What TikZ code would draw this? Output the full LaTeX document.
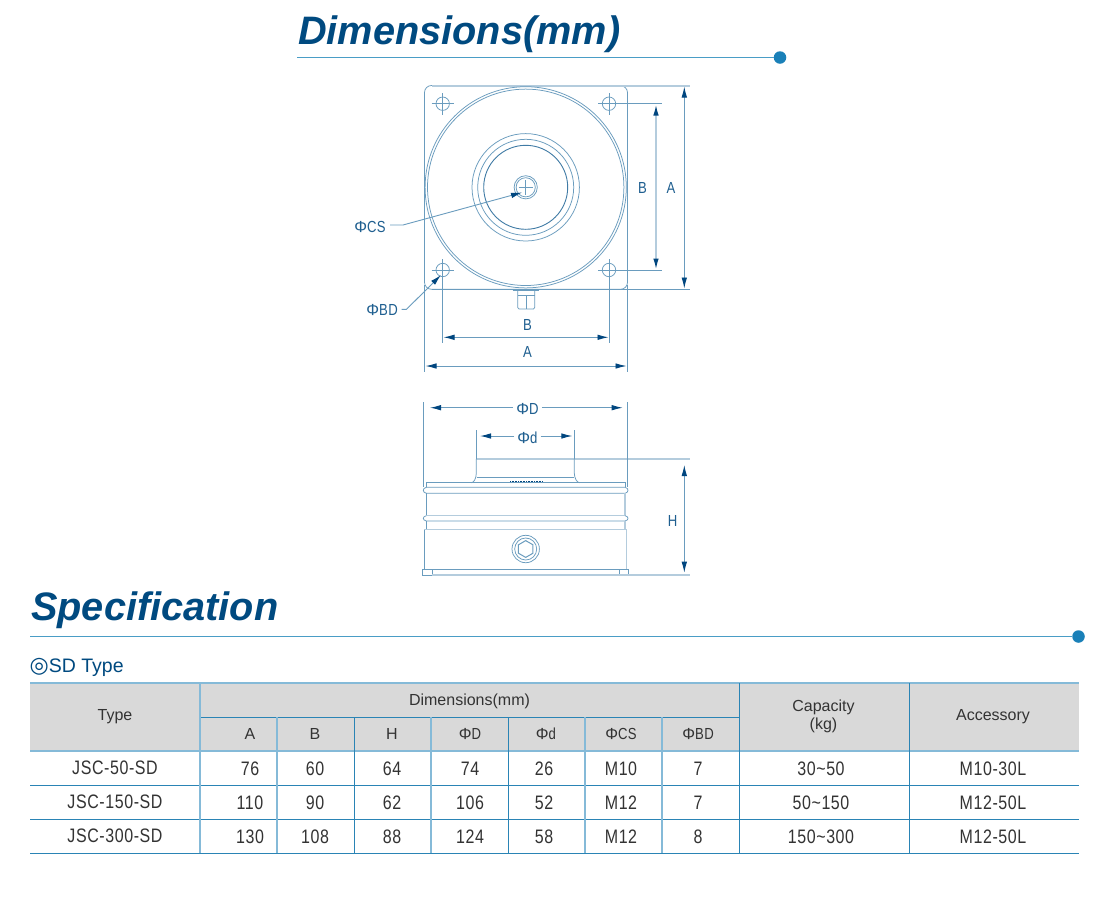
\documentclass[tikz,border=0pt]{standalone}
\usepackage{fontspec}
\setmainfont{Liberation Sans}
\newfontfamily\narrowf[FakeStretch=0.82,LetterSpace=3]{Liberation Sans}
\newfontfamily\symf{DejaVu Sans}
\newcommand{\phig}{{\rmfamily Φ}}
\usetikzlibrary{arrows.meta}
\definecolor{navy}{HTML}{004A80}
\definecolor{rule}{HTML}{4A9DC6}
\definecolor{dotc}{HTML}{1A80B8}
\definecolor{dline}{HTML}{6A9CBE}
\definecolor{dlight}{HTML}{B4CCDD}
\definecolor{dtext}{HTML}{1F5F90}
\definecolor{arrowc}{HTML}{00467F}
\definecolor{hgray}{HTML}{D9D9D9}
\definecolor{tline}{HTML}{2A84B5}
\definecolor{tlight}{HTML}{85BAD8}
\definecolor{ttext}{HTML}{333333}
\tikzset{
  x=1pt,y=-1pt,
  title/.style={anchor=base west,inner sep=0,text=navy,font=\fontsize{39.7}{44}\selectfont\bfseries\itshape},
  part/.style={draw=dline,line width=0.75pt},
  partlight/.style={draw=dlight,line width=1.8pt},
  extline/.style={draw=dline,line width=0.75pt},
  dimline/.style={draw=dline,line width=0.9pt},
  dimarrow/.style={dimline,{Latex[length=11pt,width=5.5pt,color=arrowc]}-{Latex[length=11pt,width=5.5pt,color=arrowc]}},
  tiparrow/.style={dimline,-{Latex[length=11pt,width=5.5pt,color=arrowc]}},
  dimtext/.style={inner sep=0,anchor=base,text=dtext,font=\fontsize{16}{18}\selectfont\narrowf},
  hdr/.style={inner sep=0,anchor=base,text=ttext,font=\fontsize{16}{18}\selectfont},
  hdrn/.style={inner sep=0,anchor=base,text=ttext,font=\fontsize{16}{18}\selectfont\narrowf},
  cell/.style={inner sep=0,anchor=base,text=ttext,font=\fontsize{19.5}{22}\selectfont\narrowf},
  tl/.style={draw=tline,line width=0.9pt},
  tll/.style={draw=tlight,line width=1.6pt},
}
\begin{document}
\begin{tikzpicture}
\useasboundingbox[fill=white] (0,0) rectangle (1107,914);

% headings
\node[title] (t1) at (298,44) {Dimensions(mm)};
\coordinate (t1a) at (297,57.5);
\node[circle,fill=dotc,minimum size=12.5pt,inner sep=0] (t1dot) at (780,57.5) {};
\draw[rule,line width=1.5pt] (t1a) -- (t1dot);
\node[title] (t2) at (31,620) {Specification};
\coordinate (t2a) at (30,636.5);
\node[circle,fill=dotc,minimum size=12.5pt,inner sep=0] (t2dot) at (1078.5,636.5) {};
\draw[rule,line width=1.5pt] (t2a) -- (t2dot);

% plan view
\draw[part] (424.5,92.5) arc[start angle=180,end angle=270,radius=7] -- (620.5,85.7) arc[start angle=-90,end angle=0,radius=7] -- (627.5,282.3) arc[start angle=0,end angle=90,radius=7] -- (431.5,289.3) arc[start angle=90,end angle=180,radius=7] -- cycle;
\draw[partlight] (431.5,85.7) -- (690,85.7);
\coordinate (pc) at (525.7,187.3);
\foreach \r in {100.6,98.2,53.7,48}{\draw[part] (pc) circle[radius=\r];}
\draw[draw=dline!60!navy,line width=0.9pt] (pc) circle[radius=42];
\draw[part] (pc) circle[radius=11.6];
\draw[part] (pc) circle[radius=9.6];
\draw[part,line width=0.5pt] (518.5,187.3) -- (533,187.3) (525.7,180) -- (525.7,194.5);
\foreach \n/\hx/\hy in {h1/442.7/103.7,h2/609/103.7,h3/442.7/270,h4/609/270}{
  \coordinate (\n) at (\hx,\hy);
  \draw[part] (\n) circle[radius=6.7];
  \draw[part,line width=0.55pt] ([xshift=-11pt]\n) -- ([xshift=11pt]\n) ([yshift=-11pt]\n) -- ([yshift=11pt]\n);
}
% lug
\draw[part] (512.7,290) -- (539,290);
\draw[part] (517.7,290) -- (517.7,307.5) -- (519,309) -- (533.5,309) -- (534.7,307.5) -- (534.7,290);
\draw[part] (526,295) -- (526,309) (517.7,295) -- (534.7,295);

% plan view dimensions
\coordinate (ra) at (690,289.3);
\coordinate (rb1) at (661.7,103.7);
\coordinate (rb2) at (661.7,270);
\draw[extline] (431.5,289.3) -- (ra);
\draw[extline] (h2) -- (rb1);
\draw[extline] (h4) -- (rb2);
\coordinate (va1) at (684.3,86.5);
\coordinate (va2) at (684.3,288.5);
\coordinate (vb1) at (656,104.5);
\coordinate (vb2) at (656,269.5);
\draw[dimarrow] (va1) -- (va2);
\draw[dimarrow,dlight,line width=1.5pt] (vb1) -- (vb2);
\node[dimtext] (lvb) at (642.5,193.5) {B};
\node[dimtext] (lva) at (671,193.5) {A};
\coordinate (ba) at (442.7,343);
\coordinate (bb) at (609,343);
\coordinate (aa) at (424.5,371.7);
\coordinate (ab) at (627.5,371.7);
\draw[extline] (h3) -- (ba);
\draw[extline] (h4) -- (bb);
\draw[extline] (424.5,285) -- (aa);
\draw[extline] (627.5,285) -- (ab);
\coordinate (hb1) at (443.5,337.3);
\coordinate (hb2) at (608.5,337.3);
\coordinate (ha1) at (425.5,366);
\coordinate (ha2) at (626.5,366);
\draw[dimarrow] (hb1) -- (hb2);
\draw[dimarrow] (ha1) -- (ha2);
\node[dimtext] (lhb) at (527.5,330) {B};
\node[dimtext] (lha) at (527.5,357) {A};

% leaders
\node[dimtext] (lcs) at (370,232) {\phig CS};
\coordinate (lcs1) at (390,225);
\coordinate (lcs2) at (403,225);
\coordinate (lcs3) at (522,192.5);
\draw[tiparrow] (lcs1) -- (lcs2) -- (lcs3);
\node[dimtext] (lbd) at (382,315) {\phig BD};
\coordinate (lbd1) at (401.5,309.3);
\coordinate (lbd2) at (406.5,309.3);
\coordinate (lbd3) at (441,275);
\draw[tiparrow] (lbd1) -- (lbd2) -- (lbd3);

% side view
\draw[partlight,line width=1.5pt] (476.3,459) -- (690,459);
\coordinate (d1) at (423.7,402);
\coordinate (d2) at (627,402);
\coordinate (e1) at (476.3,430);
\coordinate (e2) at (574.3,430);
\draw[extline] (d1) -- (423.7,487.3);
\draw[extline] (d2) -- (627,487.3);
\draw[extline] (e1) -- (476.3,459);
\draw[extline] (e2) -- (574.3,459);
% boss
\draw[part] (476.3,459) -- (476.3,473) .. controls (476.3,478) and (474,482.7) .. (471.5,482.7);
\draw[part] (574.3,459) -- (574.3,473) .. controls (574.3,478) and (577,482.7) .. (579.5,482.7);
\draw[part] (476.6,477.3) -- (574,477.3);
% body
\draw[part] (426.3,487.3) -- (426.3,482.7) -- (625,482.7) -- (625,487.3);
\draw[part] (426.3,487.3) -- (625,487.3) .. controls (629,488) and (629,492.5) .. (625,493.3) -- (426.3,493.3) .. controls (422.3,492.5) and (422.3,488) .. (426.3,487.3);
\draw[part] (426.3,493.3) -- (426.3,515.7);
\draw[partlight,line width=1.5pt] (625,493.3) -- (625,515.7);
\draw[partlight,line width=1.5pt] (426.3,515.7) -- (625,515.7);
\draw[part] (426.3,515.7) .. controls (422.3,516.5) and (422.3,520.2) .. (426.3,521) -- (625,521) .. controls (629,520.2) and (629,516.5) .. (625,515.7);
\draw[part] (426.3,521) -- (426.3,529.7);
\draw[partlight,line width=1.5pt] (625,521) -- (625,529.7);
\draw[partlight,line width=1.5pt] (424.3,529.7) -- (626.7,529.7);
\draw[part] (424.3,569.3) -- (424.3,529.7);
\draw[partlight,line width=1.5pt] (626.7,569.3) -- (626.7,529.7);
\draw[part] (422.3,569.3) rectangle (628.7,575);
\draw[part] (432,569.3) -- (432,575) (619.3,569.3) -- (619.3,575);
\draw[partlight,line width=1.5pt] (432,575) -- (690,575);
\draw[draw=arrowc,line width=1.2pt,dash pattern=on 1pt off 0.6pt] (510,481.5) -- (543,481.5);
% bolt
\coordinate (bc) at (525.7,549);
\draw[part] (bc) circle[radius=13.7];
\draw[part] (bc) circle[radius=11];
\draw[part,line width=1pt] (bc) ++(30:8.4) -- ++(150:8.4) -- ++(210:8.4) -- ++(270:8.4) -- ++(330:8.4) -- ++(30:8.4) -- cycle;

% side dimensions
\node[dimtext] (ld) at (527.5,414) {\phig D};
\node[dimtext] (le) at (527.5,443) {\phig d};
\coordinate (da) at (430,407.7);
\coordinate (db) at (622.7,407.7);
\coordinate (ea) at (480,436);
\coordinate (eb) at (572.3,436);
\draw[tiparrow] (ld.west |- da) ++(-3,0) -- (da);
\draw[tiparrow] (ld.east |- db) ++(3,0) -- (db);
\draw[tiparrow] (le.west |- ea) ++(-3,0) -- (ea);
\draw[tiparrow] (le.east |- eb) ++(3,0) -- (eb);
\coordinate (hh1) at (684.3,465);
\coordinate (hh2) at (684.3,572.7);
\draw[dimarrow] (hh1) -- (hh2);
\node[dimtext] (lh) at (672.5,526) {H};

% table
\node[inner sep=0,anchor=base west,text=navy,font=\fontsize{19.5}{20}\selectfont] (sdt) at (29.5,672) {{\symf\fontsize{22}{20}\selectfont ◎}SD Type};
\fill[hgray] (30,683) rectangle (1079,751);
\foreach \yy in {785,819,853}{\draw[tl] (30,\yy) -- (1079,\yy);}
\draw[tl] (200,717) -- (739,717);
\draw[tll] (30,683) -- (1079,683);
\draw[tll] (30,751) -- (1079,751);
\draw[tll] (200,683) -- (200,853);
\foreach \xx in {277,431,585,662}{\draw[tll,line width=1.1pt] (\xx,717) -- (\xx,853);}
\foreach \xx in {354,508}{\draw[tl] (\xx,717) -- (\xx,853);}
\foreach \xx in {739,909}{\draw[tl] (\xx,683) -- (\xx,853);}

\node[hdr] (hType) at (115,720.5) {Type};
\node[hdr] (hDim) at (469.5,705.5) {Dimensions(mm)};
\node[hdr] (hA) at (250,739.5) {A};
\node[hdr] (hB) at (315,739.5) {B};
\node[hdr] (hH) at (392,739.5) {H};
\node[hdrn] (hD) at (470,739.5) {\phig D};
\node[hdrn] (hd) at (546,739.5) {\phig d};
\node[hdrn] (hCS) at (621,739.5) {\phig CS};
\node[hdrn] (hBD) at (698,739.5) {\phig BD};
\node[hdr] (hCap) at (823.5,711.5) {Capacity};
\node[hdr] (hKg) at (823.5,729.5) {(kg)};
\node[hdr] (hAcc) at (993,720.5) {Accessory};

\foreach \r/\base/\ty/\a/\b/\h/\dd/\de/\cs/\bd/\cp/\ac in {
 1/775/JSC-50-SD/76/60/64/74/26/M10/7/30\textasciitilde 50/M10-30L,
 2/809/JSC-150-SD/110/90/62/106/52/M12/7/50\textasciitilde 150/M12-50L,
 3/843/JSC-300-SD/130/108/88/124/58/M12/8/150\textasciitilde 300/M12-50L}{
  \node[cell] (c\r a) at (115,\base-1) {\ty};
  \node[cell] (c\r b) at (250,\base) {\a};
  \node[cell] (c\r c) at (315,\base) {\b};
  \node[cell] (c\r d) at (392,\base) {\h};
  \node[cell] (c\r e) at (470,\base) {\dd};
  \node[cell] (c\r f) at (544,\base) {\de};
  \node[cell] (c\r g) at (621,\base) {\cs};
  \node[cell] (c\r h) at (698,\base) {\bd};
  \node[cell] (c\r i) at (821,\base) {\cp};
  \node[cell] (c\r j) at (993,\base) {\ac};
}
\end{tikzpicture}
\end{document}
